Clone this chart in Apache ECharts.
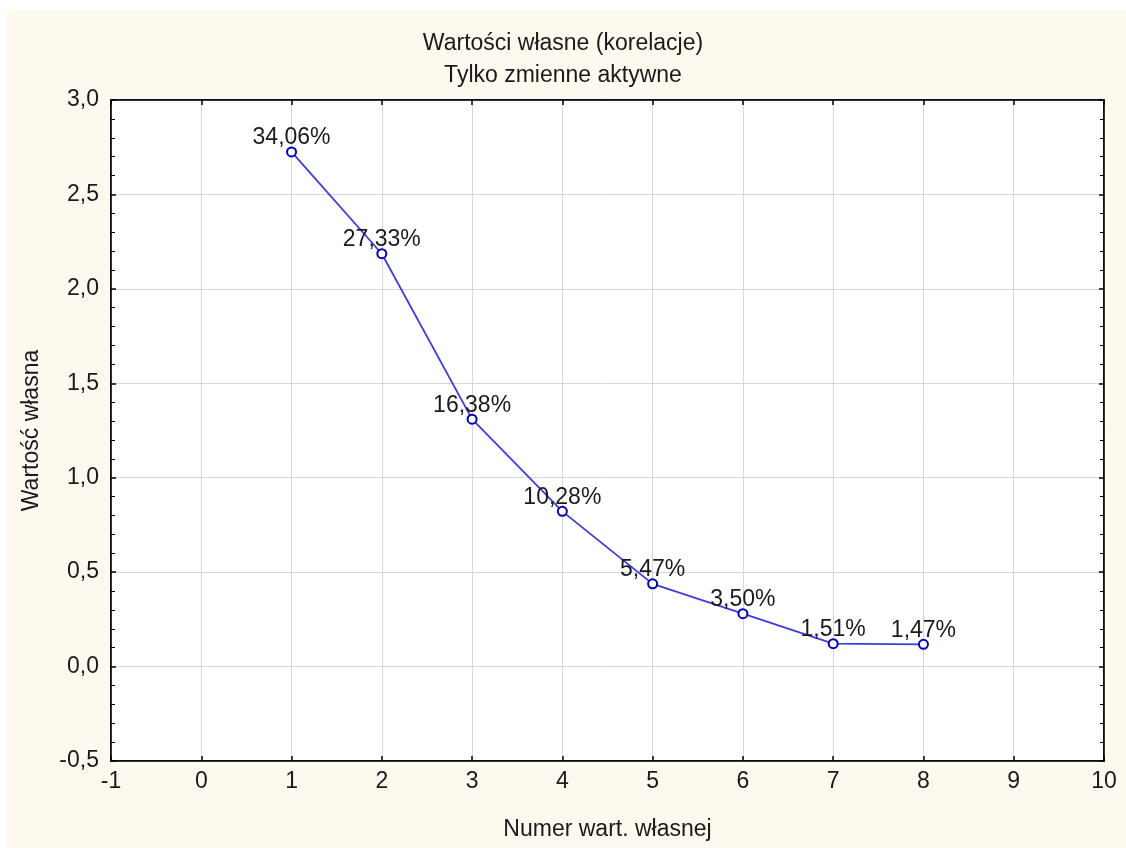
<!DOCTYPE html>
<html><head><meta charset="utf-8">
<script src="https://cdn.jsdelivr.net/npm/echarts@6/dist/echarts.min.js"></script>
<style>html,body{margin:0;padding:0;background:#fff}#c{width:1126px;height:848px}</style>
</head><body><div id="c"></div>
<script>
const eigenNumbers = [1, 2, 3, 4, 5, 6, 7, 8];
const eigenValues = [2.725, 2.186, 1.310, 0.822, 0.438, 0.280, 0.121, 0.118];
const percentLabels = ['34,06%', '27,33%', '16,38%', '10,28%', '5,47%', '3,50%', '1,51%', '1,47%'];
const titleLines = ['Wartości własne (korelacje)', 'Tylko zmienne aktywne'];

const FONT = 'Liberation Sans, Arial, sans-serif';
const FS = 23;
const TXT = '#1a1a1a';
const comma = (v, d) => v.toFixed(d).replace('.', ',');

const chart = echarts.init(document.getElementById('c'));
chart.setOption({
  backgroundColor: '#ffffff',
  animation: false,
  graphic: [{ type: 'rect', z: -10, shape: { x: 7, y: 10, width: 1119, height: 838 }, style: { fill: '#fdf9ef' }, silent: true }],
  title: [
    { text: titleLines[0], left: 'center', top: 27, textStyle: { fontFamily: FONT, fontSize: FS, fontWeight: 'normal', color: TXT } },
    { text: titleLines[1], left: 'center', top: 59, textStyle: { fontFamily: FONT, fontSize: FS, fontWeight: 'normal', color: TXT } }
  ],
  grid: { left: 111, top: 100, right: 22, bottom: 87, show: true, backgroundColor: '#ffffff', borderColor: '#000', borderWidth: 1.5, containLabel: false },
  xAxis: [
    {
      type: 'value', min: -1, max: 10, interval: 1, position: 'bottom',
      name: 'Numer wart. własnej', nameLocation: 'middle', nameGap: 57,
      nameTextStyle: { fontFamily: FONT, fontSize: FS, color: TXT },
      axisLine: { show: true, onZero: false, lineStyle: { color: '#000', width: 1.5 } },
      axisTick: { show: true, inside: true, length: 5, lineStyle: { color: '#000', width: 1.5 } },
      axisLabel: { fontFamily: FONT, fontSize: FS, color: TXT, margin: 9, formatter: v => String(v) },
      splitLine: { show: true, lineStyle: { color: '#d6d6d6', width: 1 } }
    },
    {
      type: 'value', min: -1, max: 10, interval: 1, position: 'top',
      axisLine: { show: true, onZero: false, lineStyle: { color: '#000', width: 1.5 } },
      axisTick: { show: true, inside: true, length: 5, lineStyle: { color: '#000', width: 1.5 } },
      axisLabel: { show: false }, splitLine: { show: false }
    }
  ],
  yAxis: [
    {
      type: 'value', min: -0.5, max: 3, interval: 0.5, position: 'left',
      name: 'Wartość własna', nameLocation: 'middle', nameGap: 68, nameRotate: 90,
      nameTextStyle: { fontFamily: FONT, fontSize: FS, color: TXT },
      axisLine: { show: true, onZero: false, lineStyle: { color: '#000', width: 1.5 } },
      axisTick: { show: true, inside: true, length: 5, lineStyle: { color: '#000', width: 1.5 } },
      minorTick: { show: true, splitNumber: 5, length: 4, lineStyle: { color: '#000', width: 1 } },
      axisLabel: { fontFamily: FONT, fontSize: FS, color: TXT, margin: 12, formatter: v => comma(v, 1) },
      splitLine: { show: true, lineStyle: { color: '#d6d6d6', width: 1 } }
    },
    {
      type: 'value', min: -0.5, max: 3, interval: 0.5, position: 'right',
      axisLine: { show: true, onZero: false, lineStyle: { color: '#000', width: 1.5 } },
      axisTick: { show: true, inside: true, length: 5, lineStyle: { color: '#000', width: 1.5 } },
      minorTick: { show: true, splitNumber: 5, length: 4, lineStyle: { color: '#000', width: 1 } },
      axisLabel: { show: false }, splitLine: { show: false }
    }
  ],
  series: [{
    type: 'line',
    data: eigenNumbers.map((n, i) => [n, eigenValues[i]]),
    symbol: 'circle', symbolSize: 9,
    lineStyle: { color: '#3d3ddb', width: 1.8 },
    itemStyle: { color: '#ffffff', borderColor: '#0000b4', borderWidth: 2 },
    label: {
      show: true, position: 'top', distance: -3,
      fontFamily: FONT, fontSize: FS, color: TXT,
      formatter: p => percentLabels[p.dataIndex]
    }
  }]
});
</script></body></html>
